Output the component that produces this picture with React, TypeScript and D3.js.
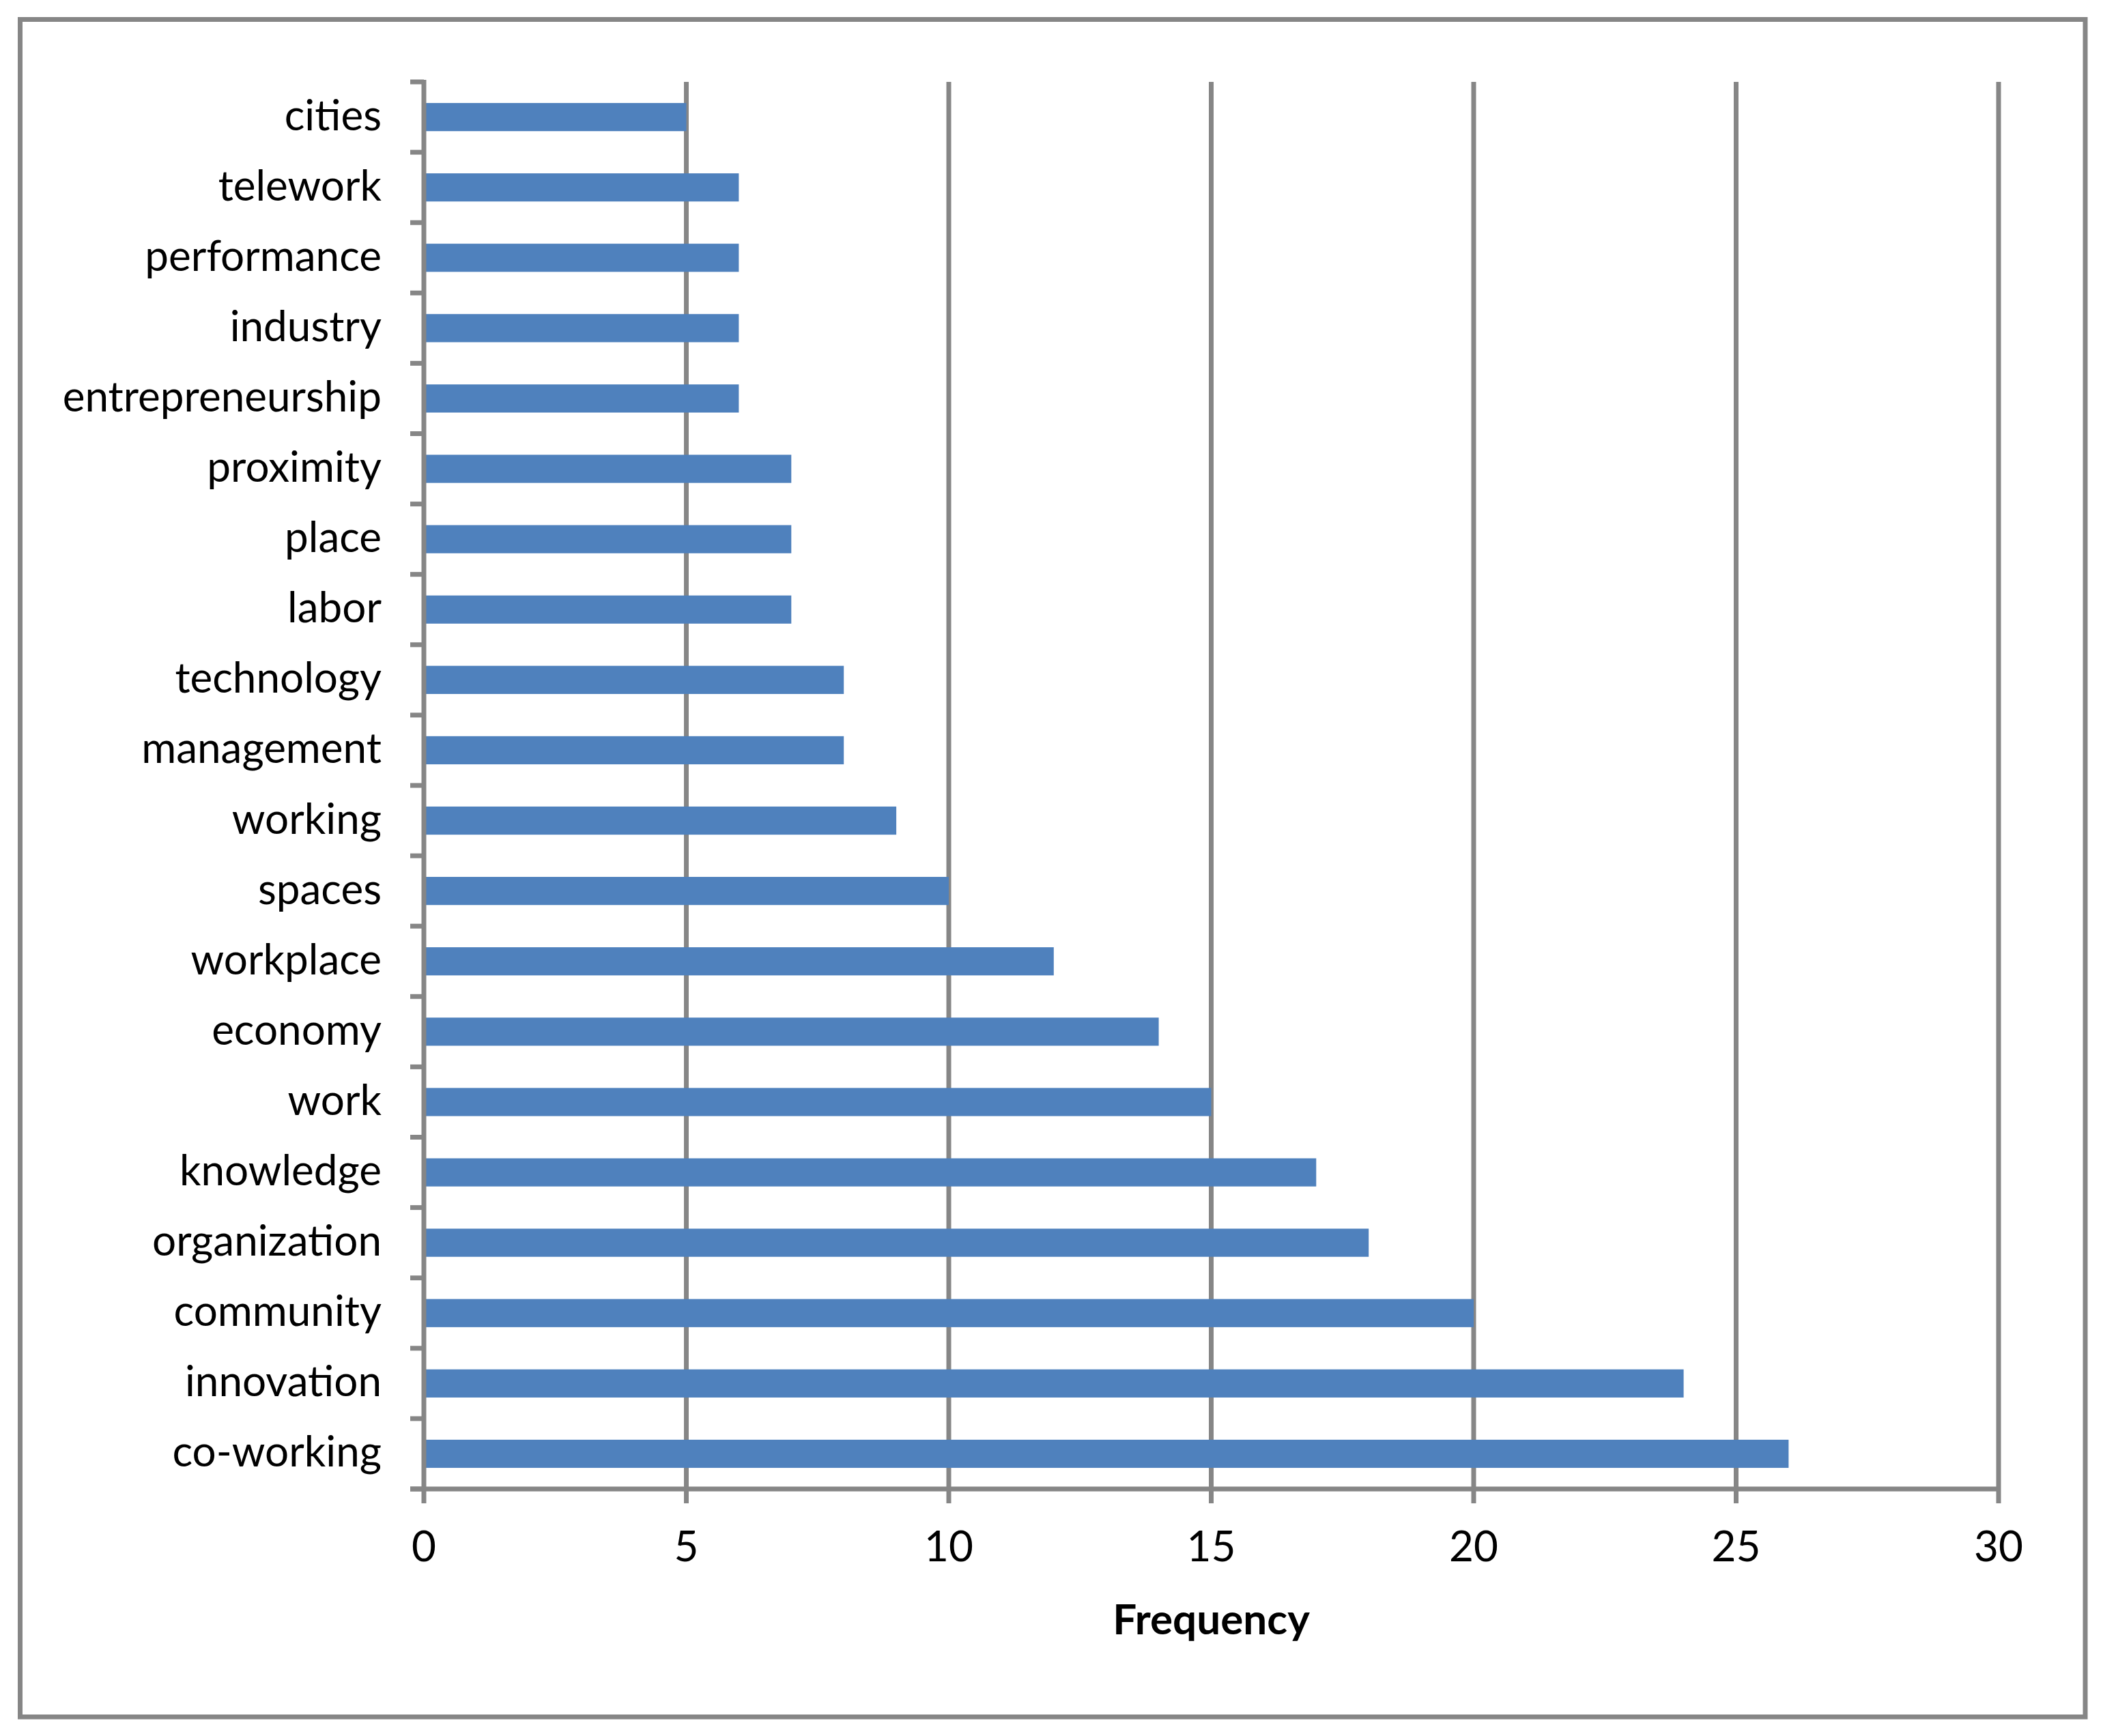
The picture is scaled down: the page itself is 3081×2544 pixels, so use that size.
import React from "react";
import * as d3 from "d3";

const categories = [
  "cities", "telework", "performance", "industry", "entrepreneurship",
  "proximity", "place", "labor", "technology", "management", "working",
  "spaces", "workplace", "economy", "work", "knowledge", "organization",
  "community", "innovation", "co-working",
];
const frequencies = [5, 6, 6, 6, 6, 7, 7, 7, 8, 8, 9, 10, 12, 14, 15, 17, 18, 20, 24, 26];
const xTicks = [0, 5, 10, 15, 20, 25, 30];
const xTitle = "Frequency";

const W = 3081;
const H = 2544;
const GRAY = "#868686";
const BAR = "#4F81BD";
const FONT = "Lato, 'Open Sans', sans-serif";

export default function App() {
  const left = 621, right = 2928, top = 120, bottom = 2182;
  const x = d3.scaleLinear().domain([0, 30]).range([left, right]);
  const y = d3.scaleBand().domain(categories).range([top, bottom]).paddingInner(0.6).paddingOuter(0.3);
  const band = d3.scaleBand().domain(categories).range([top, bottom]);
  const boundaries = categories.map((c) => band(c) as number).concat([bottom]);
  const sw = 7;
  return (
    <svg width={W} height={H} style={{ position: "absolute", left: 0, top: 0, display: "block" }}>
      <rect x={0} y={0} width={W} height={H} fill="#fff" />
      <rect x={29.5} y={28.5} width={3055 - 29.5} height={2516 - 28.5} fill="none" stroke={GRAY} strokeWidth={sw} />
      {xTicks.filter((t) => t > 0).map((t) => (
        <line key={"g" + t} x1={x(t)} x2={x(t)} y1={top} y2={bottom + 21} stroke={GRAY} strokeWidth={sw} />
      ))}
      {categories.map((c, i) => (
        <rect key={c} x={x(0)} y={y(c)} width={x(frequencies[i]) - x(0)} height={y.bandwidth()} fill={BAR} />
      ))}
      <line x1={x(0)} x2={x(0)} y1={top - 3} y2={bottom + 21} stroke={GRAY} strokeWidth={sw} />
      <line x1={left - 20} x2={right} y1={bottom} y2={bottom} stroke={GRAY} strokeWidth={sw} />
      {boundaries.map((b, i) => (
        <line key={"t" + i} x1={left - 20} x2={left} y1={b} y2={b} stroke={GRAY} strokeWidth={sw} />
      ))}
      {categories.map((c) => (
        <text key={"l" + c} x={559} y={(y(c) as number) + y.bandwidth() / 2 + 19} textAnchor="end"
          fontFamily={FONT} fontSize={62} fill="#000">{c}</text>
      ))}
      {xTicks.map((t) => (
        <text key={"x" + t} x={x(t)} y={2288} textAnchor="middle" fontFamily={FONT} fontSize={62} fill="#000">{t}</text>
      ))}
      <text x={(left + right) / 2} y={2395} textAnchor="middle" fontFamily={FONT} fontSize={62} fontWeight="bold" fill="#000">{xTitle}</text>
    </svg>
  );
}
